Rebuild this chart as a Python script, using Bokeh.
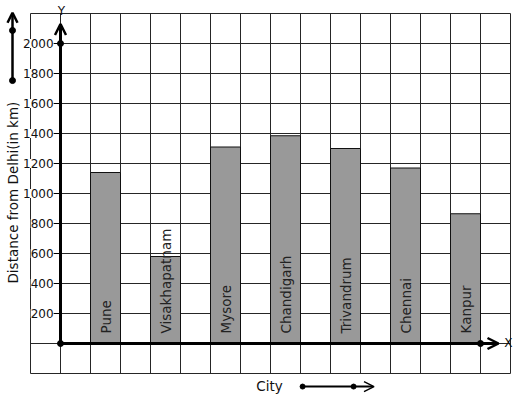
import numpy as np
from bokeh.plotting import figure
from bokeh.models import Label, LabelSet, ColumnDataSource, Arrow, OpenHead, Range1d
from bokeh.embed import file_html
from bokeh.resources import INLINE
from bokeh.core.properties import value

# ---- data ----
cities = ["Pune", "Visakhapatnam", "Mysore", "Chandigarh", "Trivandrum", "Chennai", "Kanpur"]
distances = [1140, 580, 1310, 1385, 1300, 1170, 865]
y_ticks = [200, 400, 600, 800, 1000, 1200, 1400, 1600, 1800, 2000]
y_tick_labels = [str(t) for t in y_ticks]
x_title = "City"
y_title = "Distance from Delhi(in km)"

FONT = value("DejaVu Sans")
FONT_S = "DejaVu Sans"
W, H = 517, 399
PX = 30.0            # px per grid unit (x)
YS = 200.0 / 30.0    # value per px (y)
ox, oy = 60, 343     # origin in figure pixels

p = figure(width=W, height=H, output_backend="svg", toolbar_location=None,
           x_axis_location=None, y_axis_location=None,
           x_range=Range1d(-ox / PX, (W - ox) / PX),
           y_range=Range1d(-(H - oy) * YS, oy * YS),
           min_border=0, min_border_left=0, min_border_right=0,
           min_border_top=0, min_border_bottom=0)
p.grid.visible = False
p.outline_line_color = None
p.background_fill_color = "white"
p.border_fill_color = "white"

# grid of squares
gx = np.arange(-1, 16)
gy = np.arange(-200, 2201, 200)
p.segment(x0=gx, y0=-200, x1=gx, y1=2200, line_color="#262626", line_width=1)
p.segment(x0=-1, y0=gy, x1=15, y1=gy, line_color="#262626", line_width=1)

# bars
centers = [1.5 + 2 * i for i in range(len(cities))]
src = ColumnDataSource(dict(x=centers, top=distances, name=cities))
p.vbar(x="x", top="top", bottom=0, width=1.0, source=src,
       fill_color="#999999", line_color="#111111", line_width=1)
p.text(x="x", y=67, text="name", source=src, angle=np.pi / 2,
       text_align="left", text_baseline="middle", text_font=FONT,
       text_font_size="13.5px", text_color="#222222")

# axes with arrows
p.add_layout(Arrow(end=OpenHead(size=11, line_width=2.5, line_color="black"),
                   x_start=0, y_start=0, x_end=0, y_end=2130,
                   line_width=3, line_color="black"))
p.add_layout(Arrow(end=OpenHead(size=11, line_width=2.5, line_color="black"),
                   x_start=0, y_start=0, x_end=14.6, y_end=0,
                   line_width=3, line_color="black"))
p.scatter(x=[0, 0, 14.0], y=[0, 2000, 0], size=6, color="black")

# y ticks and labels
p.segment(x0=-0.23, y0=y_ticks, x1=0, y1=y_ticks, line_color="black", line_width=1.2)
tsrc = ColumnDataSource(dict(x=[-0.23] * len(y_ticks), y=y_ticks, t=y_tick_labels))
p.add_layout(LabelSet(x="x", y="y", text="t", source=tsrc, text_align="right",
                      text_baseline="middle", text_font=FONT, text_font_size="12px",
                      text_color="#111111", background_fill_color="white"))

# axis letters
p.add_layout(Label(x=0.03, y=2220, text="Y", text_align="center", text_baseline="middle",
                   text_font=FONT_S, text_font_size="12px", text_color="#111111"))
p.add_layout(Label(x=14.93, y=5, text="X", text_align="center", text_baseline="middle",
                   text_font=FONT_S, text_font_size="12px", text_color="#111111"))

# titles
p.add_layout(Label(x=-1.57, y=1006, text=y_title, angle=np.pi / 2, text_align="center",
                   text_baseline="middle", text_font=FONT_S, text_font_size="13.5px",
                   text_color="#111111"))
p.add_layout(Label(x=6.97, y=-280, text=x_title, text_align="center", text_baseline="middle",
                   text_font=FONT_S, text_font_size="13.5px", text_color="#111111"))

# decorative direction arrows
p.add_layout(Arrow(end=OpenHead(size=10, line_width=2.5, line_color="black"),
                   x_start=-1.6, y_start=1753, x_end=-1.6, y_end=2205,
                   line_width=2.5, line_color="black"))
p.scatter(x=[-1.6, -1.6], y=[1753, 2087], size=6, color="black")
p.add_layout(Arrow(end=OpenHead(size=10, line_width=1.5, line_color="black"),
                   x_start=8.07, y_start=-287, x_end=10.45, y_end=-287,
                   line_width=2, line_color="black"))
p.scatter(x=[8.07, 9.77], y=[-287, -287], size=5, color="black")

open("out.html", "w").write(file_html(p, INLINE))
